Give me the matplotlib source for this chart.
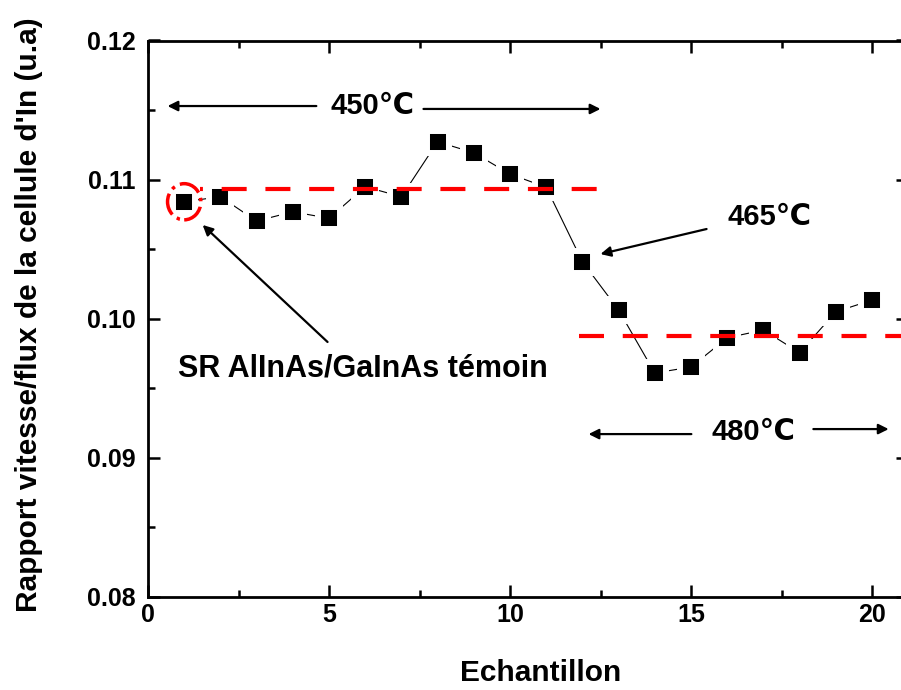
import matplotlib
matplotlib.use("Agg")
import matplotlib.pyplot as plt
from matplotlib.patches import Ellipse
from matplotlib.ticker import MultipleLocator, FormatStrFormatter

plt.rcParams['font.family'] = ['Liberation Sans', 'DejaVu Sans']
plt.rcParams['font.weight'] = 'bold'

# Data
samples = list(range(1, 21))
ratio = [0.10841, 0.10877, 0.10702, 0.10769, 0.10722, 0.10949, 0.10877, 0.11272,
         0.11193, 0.11040, 0.10945, 0.10410, 0.10063, 0.09610, 0.09653, 0.09863,
         0.09919, 0.09756, 0.10050, 0.10134]
mean_450 = 0.10932
mean_480 = 0.09876
mean_450_x = [1.45, 12.45]
mean_480_x = [11.9, 21.0]

x_label = "Echantillon"
y_label = "Rapport vitesse/flux de la cellule d'In (u.a)"
label_450 = "450\u2103"
label_465 = "465\u2103"
label_480 = "480\u2103"
label_ref = "SR AlInAs/GaInAs t\u00e9moin"

fig = plt.figure(figsize=(9.01, 6.90), dpi=100)
ax = fig.add_axes([148 / 901, 1 - 597 / 690, (907.7 - 147.5) / 901, (597 - 40.5) / 690])

ax.plot(samples, ratio, color='black', lw=0.8, zorder=2)
ax.plot(samples, ratio, ls='none', marker='s', markersize=16.5, markerfacecolor='black',
        markeredgecolor='white', markeredgewidth=4.3, zorder=3)

ax.plot(mean_450_x, [mean_450, mean_450], color='#ff0000', lw=3,
        linestyle=(5.3, (6, 4.5)), zorder=4)
ax.plot(mean_480_x, [mean_480, mean_480], color='#ff0000', lw=3,
        linestyle=(0, (6, 4.5)), zorder=4)

circ = Ellipse((1.0, ratio[0]), width=0.92, height=0.0026, fill=False,
               edgecolor='#ff0000', lw=2.5, linestyle='-.', zorder=5)
ax.add_patch(circ)

ax.set_xlim(0, 21)
ax.set_ylim(0.08, 0.12)
ax.xaxis.set_major_locator(MultipleLocator(5))
ax.xaxis.set_minor_locator(MultipleLocator(2.5))
ax.yaxis.set_major_locator(MultipleLocator(0.01))
ax.yaxis.set_minor_locator(MultipleLocator(0.005))
ax.yaxis.set_major_formatter(FormatStrFormatter('%.2f'))

ax.tick_params(which='both', direction='in', top=True, right=True, width=1.8)
ax.tick_params(which='major', length=8.5, labelsize=18)
ax.tick_params(which='minor', length=5)
ax.tick_params(axis='y', which='major', pad=9)
ax.tick_params(axis='x', which='major', pad=4)
for s in ax.spines.values():
    s.set_linewidth(2.0)

ax.set_xlabel(x_label, fontsize=21.5, fontweight='bold')
ax.set_ylabel(y_label, fontsize=21.5, fontweight='bold')
ax.xaxis.set_label_coords(0.516, -0.112)
ax.yaxis.set_label_coords(-0.138, 0.508)

arrow = dict(arrowstyle='-|>', lw=1.6, color='black', mutation_scale=15,
             shrinkA=0, shrinkB=0)

ax.text(6.20, 0.11529, label_450, fontsize=21, fontweight='bold', ha='center', va='center')
ax.annotate('', xy=(0.54, 0.11529), xytext=(4.65, 0.11529), arrowprops=arrow)
ax.annotate('', xy=(12.50, 0.11508), xytext=(7.61, 0.11508), arrowprops=arrow)

ax.text(17.17, 0.10731, label_465, fontsize=21, fontweight='bold', ha='center', va='center')
ax.annotate('', xy=(12.50, 0.10465), xytext=(15.43, 0.10645), arrowprops=arrow)

ax.text(16.73, 0.09186, label_480, fontsize=21, fontweight='bold', ha='center', va='center')
ax.annotate('', xy=(12.17, 0.09171), xytext=(15.01, 0.09171), arrowprops=arrow)
ax.annotate('', xy=(20.46, 0.09207), xytext=(18.38, 0.09207), arrowprops=arrow)

ax.text(0.84, 0.09646, label_ref, fontsize=22, fontweight='bold', ha='left', va='center')
ax.annotate('', xy=(1.51, 0.10674), xytext=(4.96, 0.09833), arrowprops=arrow)

fig.savefig('out.png', dpi=100)
